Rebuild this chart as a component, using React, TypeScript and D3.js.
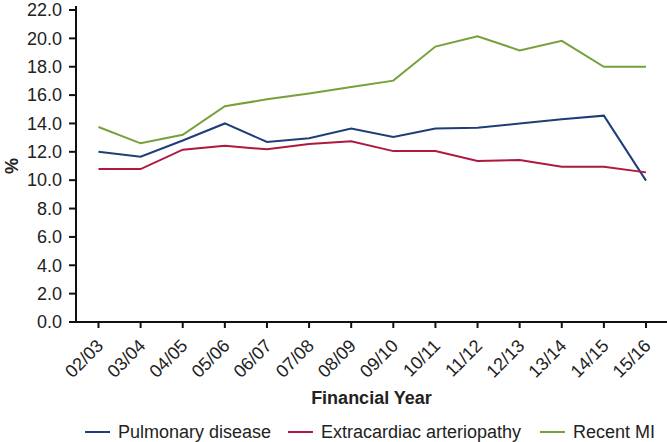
import React from "react";
import * as d3 from "d3";

const years = ["02/03","03/04","04/05","05/06","06/07","07/08","08/09","09/10","10/11","11/12","12/13","13/14","14/15","15/16"];
const pulmonary = [12.0, 11.65, 12.8, 14.0, 12.7, 12.95, 13.65, 13.05, 13.65, 13.7, 14.0, 14.3, 14.55, 9.97];
const arteriopathy = [10.78, 10.78, 12.15, 12.42, 12.18, 12.55, 12.75, 12.05, 12.05, 11.35, 11.42, 10.95, 10.95, 10.55];
const recentMI = [13.75, 12.6, 13.2, 15.22, 15.7, 16.12, 16.57, 17.02, 19.42, 20.15, 19.15, 19.83, 18.0, 18.0];
const yTicks = [0, 2, 4, 6, 8, 10, 12, 14, 16, 18, 20, 22];

const seriesNames = ["Pulmonary disease", "Extracardiac arteriopathy", "Recent MI"];
const seriesColors = ["#1f3e78", "#b0183f", "#76a13a"];
const seriesData = [pulmonary, arteriopathy, recentMI];

export default function App() {
  const W = 667, H = 442;
  const axisX = 76, axisY = 322;
  const x = d3.scalePoint<string>().domain(years).range([98.5, 646]);
  const y = d3.scaleLinear().domain([0, 22]).range([322, 10]);
  const line = d3.line<number>().x((_, i) => x(years[i]) as number).y((d) => y(d));
  const font = "'Liberation Sans', Arial, Helvetica, sans-serif";
  const legendX = [85, 288, 540];

  return (
    <svg width={W} height={H} style={{ position: "absolute", left: 0, top: 0, background: "#fff" }} fontFamily={font}>
      {/* y axis */}
      <line x1={axisX} x2={axisX} y1={y(22) - 4} y2={axisY} stroke="#111" strokeWidth={2} />
      {yTicks.map((t) => (
        <g key={t}>
          <line x1={axisX - 7} x2={axisX} y1={y(t)} y2={y(t)} stroke="#111" strokeWidth={2} />
          <text x={62} y={y(t)} dy="0.35em" textAnchor="end" fontSize={18} fill="#222">{t.toFixed(1)}</text>
        </g>
      ))}
      {/* x axis */}
      <line x1={axisX - 7} x2={W} y1={axisY} y2={axisY} stroke="#111" strokeWidth={2} />
      {years.map((yr) => {
        const xp = x(yr) as number;
        return (
          <g key={yr}>
            <line x1={xp} x2={xp} y1={axisY} y2={axisY + 6} stroke="#111" strokeWidth={2} />
            <text transform={`translate(${xp - 3},${axisY + 16}) rotate(-45)`} textAnchor="end" dy="0.7em" fontSize={18} fill="#222">{yr}</text>
          </g>
        );
      })}
      {/* series */}
      {seriesData.map((s, i) => (
        <path key={i} d={line(s) || ""} fill="none" stroke={seriesColors[i]} strokeWidth={2} />
      ))}
      {/* axis titles */}
      <text x={(axisX + W) / 2} y={404} textAnchor="middle" fontSize={18} fontWeight="bold" fill="#222">Financial Year</text>
      <text transform={`translate(18,${y(11)}) rotate(-90)`} textAnchor="middle" fontSize={18} fontWeight="bold" fill="#222">%</text>
      {/* legend */}
      {seriesNames.map((n, i) => (
        <g key={n}>
          <line x1={legendX[i]} x2={legendX[i] + 25} y1={432} y2={432} stroke={seriesColors[i]} strokeWidth={2} />
          <text x={legendX[i] + 33} y={438} fontSize={18} fill="#222">{n}</text>
        </g>
      ))}
    </svg>
  );
}
